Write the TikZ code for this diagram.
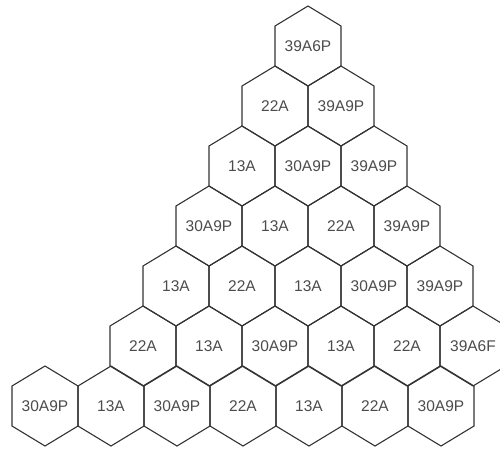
\documentclass[tikz,border=0pt]{standalone}
\usepackage{fontspec}
\setmainfont{Liberation Sans}

\begin{document}
\begin{tikzpicture}[
  x=1pt, y=-1pt,
  cell/.style={draw=black!80, line width=1.1pt, line join=miter},
  tag/.style={font=\fontsize{15.5}{16}\selectfont, text=black!70, inner sep=0pt}
]
  \useasboundingbox (0,0) rectangle (500,451);

  % triangle rows 1..6
  \foreach \row/\tags in {1/{39A6P}, 2/{22A,39A9P}, 3/{13A,30A9P,39A9P},
      4/{30A9P,13A,22A,39A9P}, 5/{13A,22A,13A,30A9P,39A9P},
      6/{22A,13A,30A9P,13A,22A,39A6F}} {
    \foreach \t [count=\col] in \tags {
      \pgfmathsetmacro\cx{308-(\row-1)*33+(\col-1)*66}
      \pgfmathsetmacro\cy{46+(\row-1)*60}
      \node[tag] (c\row-\col) at (\cx,\cy) {\t};
      \draw[cell] (c\row-\col.center) +(0,-40) -- +(33,-20) -- +(33,20)
        -- +(0,40) -- +(-33,20) -- +(-33,-20) -- cycle;
    }
  }

  % bottom row
  \foreach \t [count=\col] in {30A9P,13A,30A9P,22A,13A,22A,30A9P} {
    \pgfmathsetmacro\cx{45+(\col-1)*66}
    \node[tag] (c7-\col) at (\cx,406) {\t};
    \draw[cell] (c7-\col.center) +(0,-40) -- +(33,-20) -- +(33,20)
      -- +(0,40) -- +(-33,20) -- +(-33,-20) -- cycle;
  }
\end{tikzpicture}
\end{document}
